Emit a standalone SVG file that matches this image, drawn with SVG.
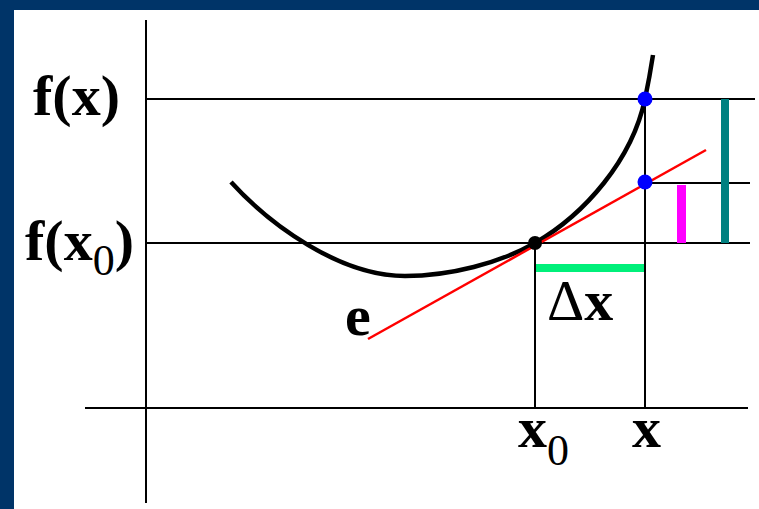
<svg xmlns="http://www.w3.org/2000/svg" width="759" height="509" viewBox="0 0 759 509">
<style>
.ln{stroke:#000;stroke-width:2;fill:none}
.lbl{font-family:"Liberation Serif","Times New Roman",serif;font-weight:bold;font-size:58px;fill:#000}
.sub{font-weight:normal;font-size:44px}
</style>
<rect x="0" y="0" width="759" height="509" fill="#ffffff"/>
<rect x="0" y="0" width="759" height="10" fill="#003468"/>
<rect x="0" y="0" width="14" height="509" fill="#003468"/>
<g id="axes">
<line class="ln" x1="146" y1="20" x2="146" y2="503"/>
<line class="ln" x1="85" y1="408" x2="748" y2="408"/>
</g>
<g id="guides">
<line class="ln" x1="146" y1="99" x2="755" y2="99"/>
<line class="ln" x1="146" y1="243" x2="750" y2="243"/>
<line class="ln" x1="645" y1="183" x2="750" y2="183"/>
<line class="ln" x1="535" y1="243" x2="535" y2="408"/>
<line class="ln" x1="645" y1="99" x2="645" y2="408"/>
</g>
<g id="bars">
<rect x="536" y="264" width="108" height="8" fill="#00f07a"/>
<rect x="677" y="185" width="9" height="58" fill="#ff00ff"/>
<rect x="721" y="99" width="8" height="144" fill="#008080"/>
</g>
<g id="curve">
<path d="M231,182 C270,225 340,276 405,276 C450,276 500,263 535,243 C585,214 632,160 645,99 C649,80 651,68 653,55" stroke="#000" stroke-width="4.5" fill="none"/>
</g>
<g id="tangent">
<line x1="368" y1="339" x2="706" y2="150" stroke="#ff0000" stroke-width="2.5"/>
</g>
<g id="points">
<circle cx="535" cy="243" r="7" fill="#000"/>
<circle cx="645" cy="99" r="7.5" fill="#0000ff"/>
<circle cx="645" cy="182" r="7.5" fill="#0000ff"/>
</g>
<g id="labels">
<text class="lbl" x="33" y="115">f(x)</text>
<text class="lbl" x="25" y="260">f(x<tspan class="sub" dy="15">0</tspan><tspan dy="-15">)</tspan></text>
<text class="lbl" x="345" y="335">e</text>
<text class="lbl" x="547" y="320"><tspan font-weight="normal">Δ</tspan>x</text>
<text class="lbl" x="518" y="447">x<tspan class="sub" dy="18">0</tspan></text>
<text class="lbl" x="632" y="447">x</text>
</g>
</svg>
